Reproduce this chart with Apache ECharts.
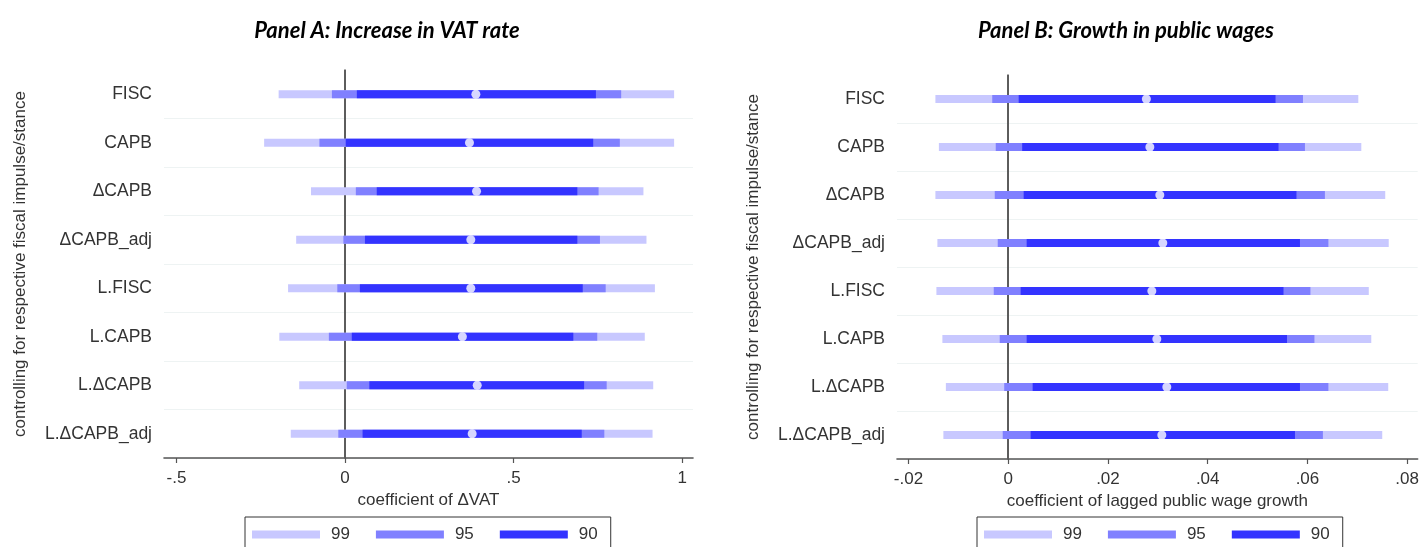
<!DOCTYPE html>
<html><head><meta charset="utf-8">
<script src="https://cdn.jsdelivr.net/npm/echarts@6/dist/echarts.min.js"></script>
<style>html,body{margin:0;padding:0;background:#fff}#c{width:1422px;height:547px}</style>
</head><body><div id="c"></div>
<script>
const categories = ['FISC','CAPB','ΔCAPB','ΔCAPB_adj','L.FISC','L.CAPB','L.ΔCAPB','L.ΔCAPB_adj'];
const levels = ['99','95','90'];
// Panel A: coefficient of ΔVAT
const aLo99 = [-0.197,-0.240,-0.101,-0.145,-0.169,-0.195,-0.136,-0.161];
const aLo95 = [-0.039,-0.076, 0.032,-0.005,-0.023,-0.048, 0.005,-0.020];
const aLo90 = [ 0.035, 0.002, 0.094, 0.059, 0.044, 0.020, 0.072, 0.052];
const aPoint = [0.388, 0.369, 0.390, 0.373, 0.373, 0.348, 0.392, 0.377];
const aHi90 = [ 0.744, 0.736, 0.689, 0.689, 0.705, 0.677, 0.709, 0.702];
const aHi95 = [ 0.819, 0.815, 0.752, 0.756, 0.773, 0.748, 0.776, 0.769];
const aHi99 = [ 0.976, 0.976, 0.885, 0.894, 0.919, 0.889, 0.914, 0.912];
const aTicks = [-0.5, 0, 0.5, 1];
// Panel B: coefficient of lagged public wage growth
const bLo99 = [-0.0146,-0.0139,-0.0146,-0.0142,-0.0144,-0.0132,-0.0125,-0.0130];
const bLo95 = [-0.0032,-0.0025,-0.0027,-0.0021,-0.0029,-0.0017,-0.0008,-0.0011];
const bLo90 = [ 0.0021, 0.0028, 0.0031, 0.0037, 0.0025, 0.0037, 0.0049, 0.0045];
const bPoint = [0.0277, 0.0284, 0.0304, 0.0310, 0.0288, 0.0298, 0.0318, 0.0308];
const bHi90 = [ 0.0536, 0.0542, 0.0578, 0.0585, 0.0552, 0.0559, 0.0585, 0.0575];
const bHi95 = [ 0.0591, 0.0595, 0.0635, 0.0642, 0.0606, 0.0614, 0.0642, 0.0631];
const bHi99 = [ 0.0702, 0.0708, 0.0756, 0.0763, 0.0723, 0.0728, 0.0762, 0.0750];
const bTicks = [-0.02, 0, 0.02, 0.04, 0.06, 0.08];

const colors = {'99':'#c8c8ff','95':'#8080ff','90':'#3333ff'};
const FONT = "'Liberation Sans', Arial, sans-serif";

function fmtTick(v){
  if (v === 0) return '0';
  let s = String(+v.toFixed(4));
  return s.replace(/^(-?)0\./, '$1.');
}

function rangeSeries(name, lo, hi, idx){
  return {
    type:'custom', name:name, xAxisIndex:idx, yAxisIndex:idx,
    itemStyle:{color:colors[name]},
    encode:{x:[0,1], y:2},
    data: lo.map((v,i)=>[v, hi[i], i]),
    renderItem:function(params, api){
      const s = api.coord([api.value(0), api.value(2)]);
      const e = api.coord([api.value(1), api.value(2)]);
      const h = 8;
      return {type:'rect', shape:{x:s[0], y:s[1]-h/2, width:e[0]-s[0], height:h},
              style:{fill:api.visual('color')}};
    },
    z: name==='99'?2:(name==='95'?3:4)
  };
}

function pointSeries(vals, idx){
  return {type:'scatter', name:'coef', xAxisIndex:idx, yAxisIndex:idx,
    data: vals.map((v,i)=>[v,i]), symbol:'circle', symbolSize:9,
    itemStyle:{color:'#ffffff'}, z:6, silent:true,
    markLine:{silent:true, symbol:'none', label:{show:false},
      lineStyle:{color:'#5a5a5a', width:1.8, type:'solid'},
      data:[{xAxis:0}], z:1}
  };
}

function xAxisDef(idx, min, max, interval, name, ticks){
  return {type:'value', gridIndex:idx, min:min, max:max, interval:interval,
    name:name, nameLocation:'middle', nameGap:31,
    nameTextStyle:{fontFamily:FONT, fontSize:17, color:'#333'},
    axisLine:{show:true, onZero:false, lineStyle:{color:'#555', width:1.6}},
    axisTick:{show:true, length:5, lineStyle:{color:'#555', width:1.2},
      customValues: ticks},
    axisLabel:{fontFamily:FONT, fontSize:17, color:'#333', margin:12,
      customValues: ticks, formatter: fmtTick},
    splitLine:{show:false}
  };
}

function yAxisDef(idx){
  return {type:'category', gridIndex:idx, data:categories, inverse:true,
    name:'controlling for respective fiscal impulse/stance', nameLocation:'middle',
    nameGap:135, nameRotate:90,
    nameTextStyle:{fontFamily:FONT, fontSize:17, color:'#333'},
    axisLine:{show:true, lineStyle:{color:'#555', width:1.6}},
    axisTick:{show:true, alignWithLabel:true, length:5, lineStyle:{color:'#444', width:1.4}},
    axisLabel:{fontFamily:FONT, fontSize:17.5, color:'#333', margin:12},
    splitLine:{show:true, lineStyle:{color:'#eef3f3', width:1.2},
      interval:function(i){ return i>0; }}
  };
}

function legendDef(left){
  return {data:levels, left:left, top:517, orient:'horizontal', icon:'rect',
    itemWidth:68, itemHeight:8, itemGap:26,
    padding:[9,13,16,7], borderColor:'#333', borderWidth:1, borderRadius:0,
    textStyle:{fontFamily:FONT, fontSize:17, color:'#333', padding:[0,0,0,6]},
    selectedMode:false};
}

const titleStyle = {fontFamily:'Lato, sans-serif', fontStyle:'italic', fontWeight:'bold', fontSize:22, color:'#000'};
const chart = echarts.init(document.getElementById('c'), null, {renderer:'canvas'});
const option = {
  backgroundColor:'#fff',
  animation:false,
  title:[
    {text:'Panel A: Increase in VAT rate', left:382, top:15, textAlign:'center', textStyle:titleStyle},
    {text:'Panel B: Growth in public wages', left:1121, top:15, textAlign:'center', textStyle:titleStyle}
  ],
  legend:[legendDef(245), legendDef(977)],
  grid:[
    {left:164, top:70, width:529, height:388},
    {left:897, top:75, width:524, height:384}
  ],
  xAxis:[
    xAxisDef(0, -0.537, 1.032, 0.5, 'coefficient of ΔVAT', aTicks),
    xAxisDef(1, -0.0223, 0.0821, 0.02, 'coefficient of lagged public wage growth', bTicks)
  ],
  yAxis:[yAxisDef(0), yAxisDef(1)],
  series:[
    rangeSeries('99', aLo99, aHi99, 0),
    rangeSeries('95', aLo95, aHi95, 0),
    rangeSeries('90', aLo90, aHi90, 0),
    pointSeries(aPoint, 0),
    rangeSeries('99', bLo99, bHi99, 1),
    rangeSeries('95', bLo95, bHi95, 1),
    rangeSeries('90', bLo90, bHi90, 1),
    pointSeries(bPoint, 1)
  ]
};
chart.setOption(option);
</script></body></html>
